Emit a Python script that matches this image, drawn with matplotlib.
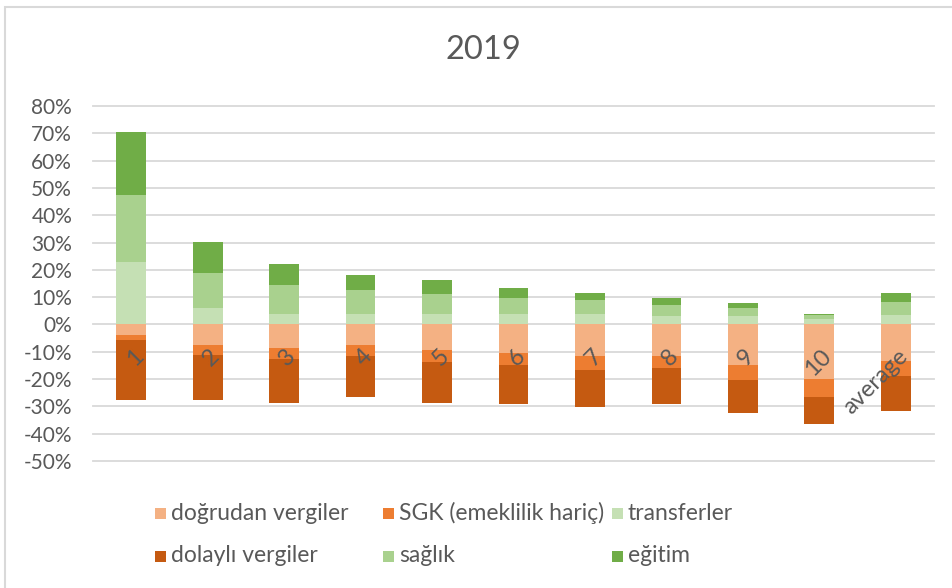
import matplotlib
matplotlib.use("Agg")
import matplotlib.pyplot as plt
from matplotlib.patches import Rectangle
import numpy as np

plt.rcParams['font.family'] = ['Lato', 'DejaVu Sans']
plt.rcParams['axes.unicode_minus'] = False

categories = ["1", "2", "3", "4", "5", "6", "7", "8", "9", "10", "average"]
# negative side (stacked downwards from 0)
dogrudan_vergiler = [-4.0, -7.7, -8.7, -7.7, -9.5, -10.5, -11.5, -11.5, -14.8, -19.9, -13.3]
sgk = [-1.7, -3.3, -3.8, -3.8, -4.3, -4.3, -5.1, -4.6, -5.6, -6.6, -5.6]
dolayli_vergiler = [-22.1, -16.8, -16.3, -14.9, -15.0, -14.5, -13.6, -13.2, -12.2, -10.1, -12.7]
# positive side (stacked upwards from 0)
transferler = [22.8, 5.9, 4.0, 3.7, 4.0, 3.7, 3.7, 3.1, 3.1, 2.1, 3.5]
saglik = [24.5, 12.8, 10.4, 8.8, 7.0, 5.9, 5.1, 4.2, 2.8, 1.4, 4.8]
egitim = [23.2, 11.6, 7.9, 5.7, 5.2, 3.8, 2.8, 2.3, 1.9, 0.5, 3.3]
y_ticks = [-50, -40, -30, -20, -10, 0, 10, 20, 30, 40, 50, 60, 70, 80]

series = [
    ("doğrudan vergiler", dogrudan_vergiler, "#F4B183"),
    ("SGK (emeklilik hariç)", sgk, "#ED7D31"),
    ("transferler", transferler, "#C5E0B4"),
    ("dolaylı vergiler", dolayli_vergiler, "#C55A11"),
    ("sağlık", saglik, "#A9D18E"),
    ("eğitim", egitim, "#70AD47"),
]

W, H = 952, 588
fig = plt.figure(figsize=(W / 100, H / 100), dpi=100)
ax = fig.add_axes([93 / W, 1 - 461 / H, (934 - 93) / W, (461 - 106) / H])

x = np.arange(len(categories))
pos_base = np.zeros(len(categories))
neg_base = np.zeros(len(categories))
colors = {}
for name, vals, color in series:
    v = np.array(vals) / 100.0
    if np.all(v <= 0):
        ax.bar(x, v, 0.39, bottom=neg_base, color=color, edgecolor="none", zorder=2)
        neg_base = neg_base + v
    else:
        ax.bar(x, v, 0.39, bottom=pos_base, color=color, edgecolor="none", zorder=2)
        pos_base = pos_base + v
    colors[name] = color

ax.set_xlim(-0.5, len(categories) - 0.5)
ax.set_ylim(-0.5, 0.8)
ax.set_yticks([t / 100 for t in y_ticks])
ax.set_yticklabels([f"{t}%" for t in y_ticks])
ax.tick_params(axis='y', length=0, pad=15, labelsize=15, labelcolor="#595959")
ax.set_xticks([])
for s in ax.spines.values():
    s.set_visible(False)
ax.grid(axis='y', color="#D9D9D9", linewidth=1.3, zorder=0)
for gl in ax.get_ygridlines():
    gl.set_clip_on(False)
ax.set_axisbelow(True)

# category labels rotated, placed just below zero line
for i, c in enumerate(categories):
    ax.annotate(c, xy=(i, 0), xytext=(1, -21), textcoords="offset pixels",
                rotation=45, rotation_mode="anchor", ha="right", va="top",
                fontsize=17, color="#595959", zorder=3)

fig.text(483 / W, 1 - 50 / H, "2019", ha="center", va="center",
         fontsize=23.5, color="#595959")

# legend, laid out as in Excel (row-major, equal column widths)
order = ["doğrudan vergiler", "SGK (emeklilik hariç)", "transferler",
         "dolaylı vergiler", "sağlık", "eğitim"]
col_x = [155, 383, 612]
row_y = [513, 556]
for k, name in enumerate(order):
    r, cidx = divmod(k, 3)
    color = colors[name]
    xm = col_x[cidx]
    ym = row_y[r]
    fig.patches.append(Rectangle((xm / W, 1 - (ym + 6) / H), 11 / W, 11 / H,
                                 transform=fig.transFigure, facecolor=color,
                                 edgecolor="none"))
    fig.text((xm + 16) / W, 1 - ym / H, name, ha="left", va="center",
             fontsize=16.5, color="#595959")

# chart area border (only top and left visible in the crop)
fig.patches.append(Rectangle((5 / W, -0.1), 1.2, 1.1 - 7 / H,
                             transform=fig.transFigure, facecolor="none",
                             edgecolor="#D9D9D9", linewidth=1.5))

fig.savefig("out.png", dpi=100, facecolor="white")
